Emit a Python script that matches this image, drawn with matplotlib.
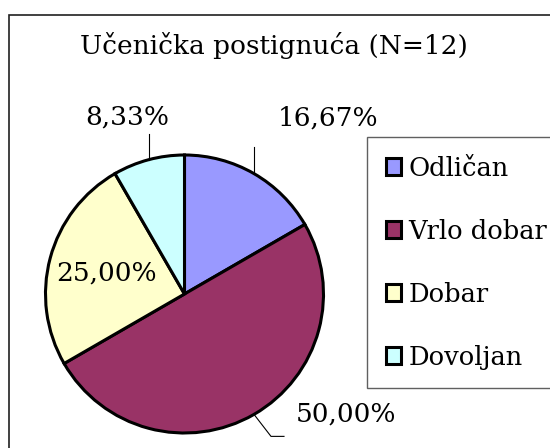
import numpy as np
import matplotlib.pyplot as plt
from matplotlib.patches import Rectangle, Patch

plt.rcParams['font.family'] = ['DejaVu Serif']

title = 'Učenička postignuća (N=12)'
categories = ['Odličan', 'Vrlo dobar', 'Dobar', 'Dovoljan']
counts = [2, 6, 3, 1]
colors = ['#9999FF', '#993366', '#FFFFCC', '#CCFFFF']

W, H = 550, 448
fig = plt.figure(figsize=(W / 100, H / 100), dpi=100)
ax = fig.add_axes([0, 0, 1, 1])

# pie in pixel-like data units (y up)
cx, cy, R = 184.5, H - 294, 139
wedges, _ = ax.pie(counts, colors=colors, startangle=90, counterclock=False,
                   center=(cx, cy), radius=R,
                   wedgeprops=dict(edgecolor='black', linewidth=2.2))
ax.set_xlim(0, W)
ax.set_ylim(0, H)
ax.set_aspect('equal')
ax.axis('off')

total = sum(counts)
fs = 19

# label placement: (outside?, leader end offsets, text offset) in pixels
label_pos = [
    (True, [(0, 27)], (74, 56)),
    (True, [(17, -22), (30, -22)], (92, 0)),
    (False, None, None),
    (True, [(0, 26)], (-21, 43)),
]

for w, n, (outside, leader, toff) in zip(wedges, counts, label_pos):
    txt = f'{n / total * 100:.2f}%'.replace('.', ',')
    mid = np.deg2rad((w.theta1 + w.theta2) / 2)
    if outside:
        ex, ey = cx + R * np.cos(mid), cy + R * np.sin(mid)
        xs = [ex] + [ex + dx for dx, dy in leader]
        ys = [ey] + [ey + dy for dx, dy in leader]
        ax.plot(xs, ys, color='black', lw=0.8)
        ax.text(ex + toff[0], ey + toff[1], txt, fontsize=fs,
                ha='center', va='center')
    else:
        r = 0.58 * R
        ax.text(cx + r * np.cos(mid), cy + r * np.sin(mid), txt,
                fontsize=fs, ha='center', va='center')

ax.text(274, H - 45, title, fontsize=fs, ha='center', va='center')

# chart area border
ax.add_patch(Rectangle((8.5, -20), 600, H - 14.5 + 20, fill=False,
                       edgecolor='#202020', lw=1.2, clip_on=False))

handles = [Patch(facecolor=c, edgecolor='black', lw=2.2) for c in colors]
fig.legend(handles, categories, loc='upper left',
           bbox_to_anchor=(367 / W, 1 - 137 / H), borderaxespad=0,
           fontsize=18.5, frameon=True, fancybox=False, edgecolor='#606060',
           framealpha=1, handlelength=0.6, handleheight=0.6,
           handletextpad=0.3, borderpad=0.72, labelspacing=1.48)

fig.savefig('out.png', dpi=100)
